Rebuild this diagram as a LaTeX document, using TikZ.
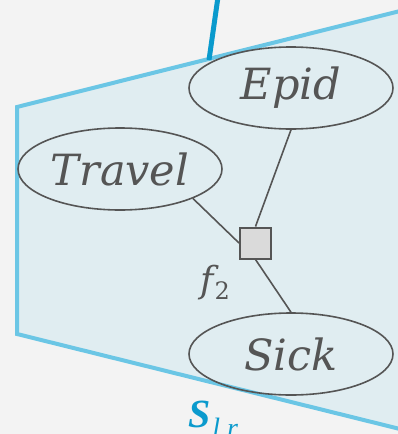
\documentclass[tikz,border=0pt]{standalone}
\usepackage{fontspec}
\setmainfont{Liberation Serif}
\newfontfamily\varfont{DejaVu Serif}
\definecolor{bgray}{HTML}{F3F3F3}
\definecolor{plate}{HTML}{E0EDF1}
\definecolor{plateedge}{HTML}{6BC6E5}
\definecolor{linkblue}{HTML}{0A9ACD}
\definecolor{ink}{HTML}{555555}
\definecolor{facfill}{HTML}{DADADA}
\tikzset{
  var/.style={draw=ink,line width=1.6pt,ellipse,minimum width=204pt,minimum height=82pt,
    inner sep=0pt,text=ink,font=\fontsize{43}{43}\selectfont\varfont\itshape},
  factor/.style={draw=ink,fill=facfill,line width=2pt,minimum size=31pt,inner sep=0pt},
  edge/.style={draw=ink,line width=1.6pt}
}
\usetikzlibrary{shapes.geometric}
\begin{document}
\begin{tikzpicture}[x=1pt,y=-1pt]
 \fill[bgray](0,0) rectangle (398,434);
 \useasboundingbox (0,0) rectangle (398,434);
 % plate
 \draw[plateedge,fill=plate,line width=4pt](17,107)--(400,11)--(400,429)--(17,334)--cycle;
 \draw[linkblue,line width=5pt](218,-3)--(209,60);
 % variables and factor
 \node[var] (epid) at (291,88) {Epid};
 \node[var] (travel) at (120,169) {Travel};
 \node[var] (sick) at (291,354) {Sick};
 \node[factor] (f2) at (255.5,243) {};
 \node[text=ink,font=\fontsize{36}{36}\selectfont\varfont] (f2lbl) at (215,283) {\itshape f\kern1pt\raisebox{-7pt}{\fontsize{24}{24}\selectfont\upshape 2}};
 \path[edge] (epid.south) -- (f2.north);
 \path[edge] (travel.-22) -- (f2.west);
 \path[edge] (f2.south) -- (sick.north);
 % plate label
 \node[text=linkblue,anchor=base west,inner sep=0pt,font=\fontsize{40}{40}\selectfont\bfseries\itshape] (plbl) at (188,427)
   {S\kern2pt\raisebox{-10pt}{\fontsize{28}{28}\selectfont\mdseries l r}};
\end{tikzpicture}
\end{document}
